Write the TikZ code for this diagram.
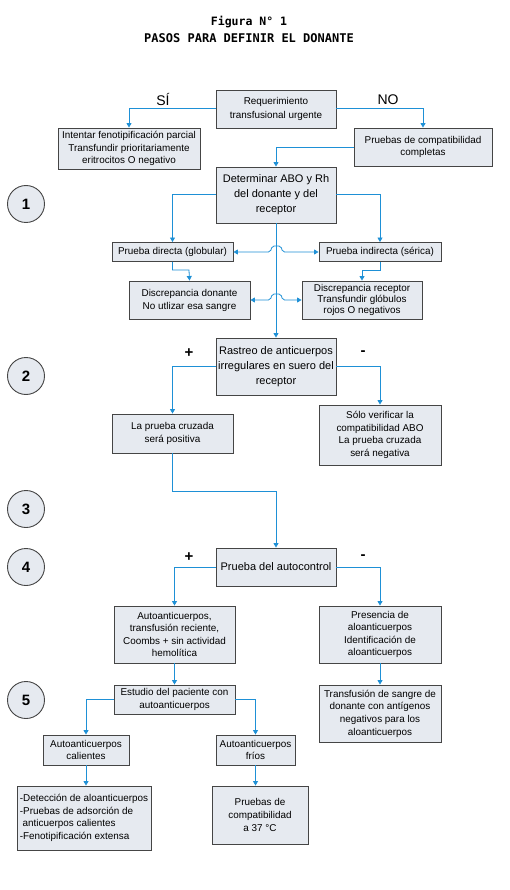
\documentclass[tikz,border=0pt]{standalone}
\usepackage{fontspec}
\setmainfont{Liberation Sans}
\newfontfamily\titlefont{DejaVu Sans Mono}
\usetikzlibrary{arrows.meta}
\definecolor{boxfill}{HTML}{E6EAF0}
\definecolor{boxline}{HTML}{454545}
\definecolor{conblue}{HTML}{1E90D6}
\tikzset{
  box/.style={draw=boxline, line width=0.9pt, fill=boxfill, inner sep=0pt, align=center,
    font=\fontsize{9.9}{12.6}\selectfont},
  bigbox/.style={box, font=\fontsize{11}{15}\selectfont},
  conn/.style={draw=conblue, line width=0.8pt, -{Triangle[width=5pt,length=4.5pt]}},
  connb/.style={draw=conblue, line width=0.8pt, {Triangle[width=5pt,length=4.5pt]}-{Triangle[width=5pt,length=4.5pt]}, rounded corners=2pt},
  stepcirc/.style={circle, draw=boxline, line width=0.9pt, fill=boxfill, minimum size=37pt, inner sep=0pt,
    font=\fontsize{15}{15}\selectfont\bfseries},
  lbl/.style={font=\fontsize{14}{14}\selectfont},
  sign/.style={font=\fontsize{15}{15}\selectfont\bfseries}
}
\begin{document}
\begin{tikzpicture}[x=1pt,y=-1pt]
\useasboundingbox[fill=white] (0,0) rectangle (510,890);
% title
\node[font=\titlefont\fontsize{11.5}{11.5}\selectfont\bfseries] (t1) at (249,22) {Figura N° 1};
\node[font=\titlefont\fontsize{12}{12}\selectfont\bfseries] (t2) at (249,38) {PASOS PARA DEFINIR EL DONANTE};

% step circles
\node[stepcirc] (c1) at (26,204) {1};
\node[stepcirc] (c2) at (26,376) {2};
\node[stepcirc] (c3) at (26,509) {3};
\node[stepcirc] (c4) at (26,567) {4};
\node[stepcirc] (c5) at (26,700) {5};

% boxes
\node[box, minimum width=120pt, minimum height=38pt, font=\fontsize{9.9}{13.5}\selectfont] (req) at (276,109) {Requerimiento\\transfusional urgente};
\node[box, minimum width=142pt, minimum height=41pt] (int) at (129,148.5) {Intentar fenotipificación parcial\\Transfundir prioritariamente\\eritrocitos O negativo};
\node[box, minimum width=138pt, minimum height=38pt] (pco) at (423,147) {Pruebas de compatibilidad\\completas};
\node[bigbox, minimum width=120pt, minimum height=56pt] (det) at (276,195) {Determinar ABO y Rh\\del donante y del\\receptor};
\node[box, minimum width=121pt, minimum height=19pt] (pd) at (172.5,252) {Prueba directa (globular)};
\node[box, minimum width=122pt, minimum height=19pt] (pi) at (380,252) {Prueba indirecta (sérica)};
\node[box, minimum width=121pt, minimum height=38pt, font=\fontsize{9.9}{13}\selectfont] (dd) at (189.5,300) {Discrepancia donante\\No utlizar esa sangre};
\node[box, minimum width=120pt, minimum height=38pt, font=\fontsize{9.9}{11}\selectfont] (dr) at (362,300) {Discrepancia receptor\\Transfundir glóbulos\\rojos O negativos};
\node[bigbox, minimum width=120pt, minimum height=57pt] (ras) at (276,366.5) {Rastreo de anticuerpos\\irregulares en suero del\\receptor};
\node[box, minimum width=121pt, minimum height=39pt] (lpc) at (172.5,433.5) {La prueba cruzada\\será positiva};
\node[box, minimum width=122pt, minimum height=60pt] (sv) at (380,435) {Sólo verificar la\\compatibilidad ABO\\La prueba cruzada\\será negativa};
\node[bigbox, minimum width=120pt, minimum height=38pt] (pac) at (276,567) {Prueba del autocontrol};
\node[box, minimum width=121pt, minimum height=57pt] (auto) at (174.5,634.5) {Autoanticuerpos,\\transfusión reciente,\\Coombs + sin actividad\\hemolítica};
\node[box, minimum width=122pt, minimum height=57pt] (pres) at (380,634.5) {Presencia de\\aloanticuerpos\\Identificación de\\aloanticuerpos};
\node[box, minimum width=121pt, minimum height=29pt] (est) at (174.5,699.5) {Estudio del paciente con\\autoanticuerpos};
\node[box, minimum width=122pt, minimum height=57pt] (tra) at (380,713.5) {Transfusión de sangre de\\donante con antígenos\\negativos para los\\aloanticuerpos};
\node[box, minimum width=86pt, minimum height=30pt] (cal) at (86,750) {Autoanticuerpos\\calientes};
\node[box, minimum width=79pt, minimum height=30pt] (fri) at (255.5,750) {Autoanticuerpos\\fríos};
\node[box, minimum width=134pt, minimum height=64pt, align=left] (detc) at (84,818) {-Detección de aloanticuerpos\\-Pruebas de adsorción de\\\ anticuerpos calientes\\-Fenotipificación extensa};
\node[box, minimum width=96pt, minimum height=58pt] (p37) at (260,815) {Pruebas de\\compatibilidad\\a 37 °C};

% labels
\node[lbl] (si) at (163,100) {SÍ};
\node[lbl] (no) at (388,100) {NO};
\node[sign] (p1) at (189,353) {+};
\node[sign] (m1) at (363,353) {-};
\node[sign] (p2) at (189,557) {+};
\node[sign] (m2) at (363,557) {-};

% connectors
\draw[conn] (req.west |- 0,108) -| (int.north);
\draw[conn] (req.east |- 0,108) -| (pco.north);
\draw[conn] (pco.west) -| (det.north);
\draw[conn] (det.west |- 0,194) -| (pd.north);
\draw[conn] (det.east |- 0,194) -| (pi.north);
\draw[conn] (pd.south) |- (189,270) -- (dd.north);
\draw[conn] (pi.south) |- (362,270) -- (dr.north);
\draw[conn] (det.south) -- (ras.north);
\draw[connb] (pd.east) -- (270.5,252) -- (272,246) -- (281,246) -- (282.5,252) -- (pi.west);
\draw[connb] (dd.east) -- (270.5,300) -- (272,294) -- (281,294) -- (282.5,300) -- (dr.west);
\draw[conn] (ras.west) -| (lpc.north);
\draw[conn] (ras.east) -| (sv.north);
\draw[conn] (lpc.south) |- (276,491) -- (pac.north);
\draw[conn] (pac.west) -| (auto.north);
\draw[conn] (pac.east) -| (pres.north);
\draw[conn] (auto.south) -- (est.north);
\draw[conn] (pres.south) -- (tra.north);
\draw[conn] (est.west) -| (cal.north);
\draw[conn] (est.east) -| (fri.north);
\draw[conn] (cal.south) -- (cal.south |- detc.north);
\draw[conn] (fri.south) -- (fri.south |- p37.north);
\end{tikzpicture}
\end{document}
